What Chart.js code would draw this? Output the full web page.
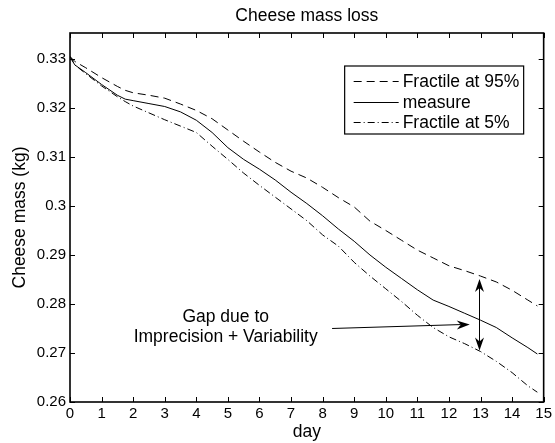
<!DOCTYPE html>
<html>
<head>
<meta charset="utf-8">
<script src="https://cdn.jsdelivr.net/npm/chart.js@4"></script>
<style>
  html, body { margin: 0; padding: 0; background: #fff; }
</style>
</head>
<body>
<canvas id="chart" width="555" height="443"></canvas>
<script>
// days where the curves are sampled
const days = [0, 0.15, 0.5, 1, 1.5, 1.75, 2, 2.5, 3, 3.5, 4, 4.5, 5, 5.5, 6, 6.5, 7, 7.5,
              8, 8.5, 9, 9.5, 10, 10.5, 11, 11.5, 12, 12.5, 13, 13.5, 14, 14.5, 14.8];

const fractile95 = [0.3305, 0.3295, 0.3282, 0.3262, 0.3244, 0.3236, 0.3231, 0.3226, 0.3220, 0.3208,
                    0.3195, 0.3178, 0.3155, 0.3132, 0.3110, 0.3089, 0.3071, 0.3057, 0.3038, 0.3017,
                    0.2998, 0.2969, 0.2950, 0.2930, 0.2910, 0.2894, 0.2878, 0.2868, 0.2857, 0.2845,
                    0.2828, 0.2808, 0.2796];

const measure = [0.3305, 0.3288, 0.3272, 0.3248, 0.3226, 0.3218, 0.3215, 0.3209, 0.3203, 0.3192,
                 0.3175, 0.3150, 0.3119, 0.3095, 0.3075, 0.3053, 0.3028, 0.3005, 0.2980, 0.2953,
                 0.2928, 0.2900, 0.2875, 0.2852, 0.2829, 0.2808, 0.2795, 0.2781, 0.2767, 0.2752,
                 0.2731, 0.2711, 0.2698];

const fractile5 = [0.3305, 0.3288, 0.3270, 0.3245, 0.3223, 0.3213, 0.3204, 0.3190, 0.3176, 0.3163,
                   0.3150, 0.3122, 0.3095, 0.3067, 0.3042, 0.3018, 0.2994, 0.2970, 0.2941, 0.2918,
                   0.2885, 0.2857, 0.2831, 0.2805, 0.2777, 0.2752, 0.2733, 0.2719, 0.2703, 0.2683,
                   0.2660, 0.2633, 0.2620];

const seriesLabels = ['Fractile at 95%', 'measure', 'Fractile at 5%'];

const xTicks = [0, 1, 2, 3, 4, 5, 6, 7, 8, 9, 10, 11, 12, 13, 14, 15];
const yTicks = [0.26, 0.27, 0.28, 0.29, 0.30, 0.31, 0.32, 0.33];
const yTickLabels = ['0.26', '0.27', '0.28', '0.29', '0.3', '0.31', '0.32', '0.33'];

const chartTitle = 'Cheese mass loss';

// annotation text and arrows (in data units)
const gapText = ['Gap due to', 'Imprecision + Variability'];
const gapTextPos = [4.93, 0.2774];
const gapArrow = [[8.3, 0.2750], [12.66, 0.2758]];
const gapSpan = [12.94, 0.2851, 0.2705];

const FONT = "'Liberation Sans', Arial, Helvetica, sans-serif";

function toPoints(vals) {
    return days.map((d, i) => ({ x: d, y: vals[i] }));
}

function arrowHead(ctx, x, y, ang) {
    // matlab-like head with a notched back
    const len = 13, half = 4.5, notch = 9;
    ctx.save();
    ctx.translate(x, y);
    ctx.rotate(ang);
    ctx.beginPath();
    ctx.moveTo(0, 0);
    ctx.lineTo(-len, -half);
    ctx.lineTo(-notch, 0);
    ctx.lineTo(-len, half);
    ctx.closePath();
    ctx.fill();
    ctx.restore();
}

// box around the plot with inward tick marks on all four sides, title above it
const framePlugin = {
    id: 'frame',
    afterDatasetsDraw(chart) {
        const { ctx, chartArea: a, scales: { x, y } } = chart;
        ctx.save();
        ctx.strokeStyle = '#000';
        ctx.lineWidth = 1;
        ctx.beginPath();
        xTicks.forEach(t => {
            const px = Math.round(x.getPixelForValue(t)) + 0.5;
            ctx.moveTo(px, a.bottom); ctx.lineTo(px, a.bottom - 5);
            ctx.moveTo(px, a.top); ctx.lineTo(px, a.top + 5);
        });
        yTicks.forEach(t => {
            const py = Math.round(y.getPixelForValue(t)) + 0.5;
            ctx.moveTo(a.left, py); ctx.lineTo(a.left + 5, py);
            ctx.moveTo(a.right, py); ctx.lineTo(a.right - 5, py);
        });
        ctx.stroke();
        ctx.lineWidth = 1.6;
        ctx.strokeRect(a.left, a.top, a.right - a.left, a.bottom - a.top);

        ctx.fillStyle = '#000';
        ctx.font = '17.5px ' + FONT;
        ctx.textAlign = 'center';
        ctx.textBaseline = 'middle';
        ctx.fillText(chartTitle, (a.left + a.right) / 2, a.top - 17);
        ctx.restore();
    }
};

// legend box in the top right corner of the plot
const legendPlugin = {
    id: 'boxLegend',
    afterDatasetsDraw(chart) {
        const { ctx, chartArea: a } = chart;
        const boxW = 179, boxH = 68;
        const bx = a.right - 20 - boxW, by = a.top + 33;
        ctx.save();
        ctx.fillStyle = '#fff';
        ctx.fillRect(bx, by, boxW, boxH);
        ctx.strokeStyle = '#000';
        ctx.lineWidth = 1.2;
        ctx.strokeRect(bx, by, boxW, boxH);
        ctx.font = '17.5px ' + FONT;
        ctx.textBaseline = 'middle';
        ctx.fillStyle = '#000';
        chart.data.datasets.forEach((ds, i) => {
            const ry = by + 15 + i * 20.7;
            ctx.lineWidth = 1;
            ctx.setLineDash(ds.borderDash || []);
            ctx.beginPath();
            ctx.moveTo(bx + 9, Math.round(ry) + 0.5);
            ctx.lineTo(bx + 54, Math.round(ry) + 0.5);
            ctx.stroke();
            ctx.setLineDash([]);
            ctx.fillText(ds.label, bx + 58, ry + 1);
        });
        ctx.restore();
    }
};

// "Gap due to ..." note with its arrows
const notePlugin = {
    id: 'gapNote',
    afterDatasetsDraw(chart) {
        const { ctx, scales: { x, y } } = chart;
        ctx.save();
        ctx.fillStyle = '#000';
        ctx.strokeStyle = '#000';
        ctx.font = '17.5px ' + FONT;
        ctx.textAlign = 'center';
        ctx.textBaseline = 'middle';
        const tx = x.getPixelForValue(gapTextPos[0]);
        const ty = y.getPixelForValue(gapTextPos[1]);
        gapText.forEach((t, i) => ctx.fillText(t, tx, ty + i * 20));

        // single arrow
        const x1 = x.getPixelForValue(gapArrow[0][0]), y1 = y.getPixelForValue(gapArrow[0][1]);
        const x2 = x.getPixelForValue(gapArrow[1][0]), y2 = y.getPixelForValue(gapArrow[1][1]);
        ctx.lineWidth = 1;
        ctx.beginPath();
        ctx.moveTo(x1, y1);
        ctx.lineTo(x2 - 9, y2);
        ctx.stroke();
        arrowHead(ctx, x2, y2, Math.atan2(y2 - y1, x2 - x1));

        // double arrow
        const sx = Math.round(x.getPixelForValue(gapSpan[0])) + 0.5;
        const sTop = y.getPixelForValue(gapSpan[1]), sBot = y.getPixelForValue(gapSpan[2]);
        ctx.beginPath();
        ctx.moveTo(sx, sTop + 8);
        ctx.lineTo(sx, sBot - 8);
        ctx.stroke();
        arrowHead(ctx, sx, sTop, -Math.PI / 2);
        arrowHead(ctx, sx, sBot, Math.PI / 2);
        ctx.restore();
    }
};

new Chart(document.getElementById('chart'), {
    type: 'line',
    data: {
        datasets: [
            { label: seriesLabels[0], data: toPoints(fractile95), borderDash: [8, 5] },
            { label: seriesLabels[1], data: toPoints(measure), borderDash: [] },
            { label: seriesLabels[2], data: toPoints(fractile5), borderDash: [7, 3, 1, 3] }
        ].map(ds => Object.assign(ds, {
            borderColor: '#000',
            borderWidth: 1,
            pointRadius: 0,
            tension: 0,
            fill: false
        }))
    },
    options: {
        responsive: false,
        devicePixelRatio: 1,
        animation: false,
        layout: { padding: { top: 33, right: 7, left: 0, bottom: 0 } },
        plugins: {
            legend: { display: false },
            tooltip: { enabled: false },
            title: { display: false }
        },
        scales: {
            x: {
                type: 'linear',
                min: 0,
                max: 15,
                grid: { display: false, drawTicks: false },
                border: { display: false },
                afterFit: s => { s.height = 41; },
                afterBuildTicks: s => { s.ticks = xTicks.map(v => ({ value: v })); },
                ticks: {
                    color: '#000',
                    padding: 3,
                    maxRotation: 0,
                    autoSkip: false,
                    font: { family: FONT, size: 15 },
                    callback: v => String(v)
                },
                title: {
                    display: true,
                    text: 'day',
                    color: '#000',
                    font: { family: FONT, size: 17.5 },
                    padding: { top: 0, bottom: 0 }
                }
            },
            y: {
                type: 'linear',
                min: 0.26,
                max: 0.3353,
                grid: { display: false, drawTicks: false },
                border: { display: false },
                afterFit: s => { s.width = 70; },
                afterBuildTicks: s => { s.ticks = yTicks.map(v => ({ value: v })); },
                ticks: {
                    color: '#000',
                    padding: 4,
                    autoSkip: false,
                    font: { family: FONT, size: 15 },
                    callback: (v, i) => yTickLabels[i]
                },
                title: {
                    display: true,
                    text: 'Cheese mass (kg)',
                    color: '#000',
                    font: { family: FONT, size: 17.5 },
                    padding: { top: 10, bottom: 0 }
                }
            }
        }
    },
    plugins: [framePlugin, legendPlugin, notePlugin]
});
</script>
</body>
</html>
